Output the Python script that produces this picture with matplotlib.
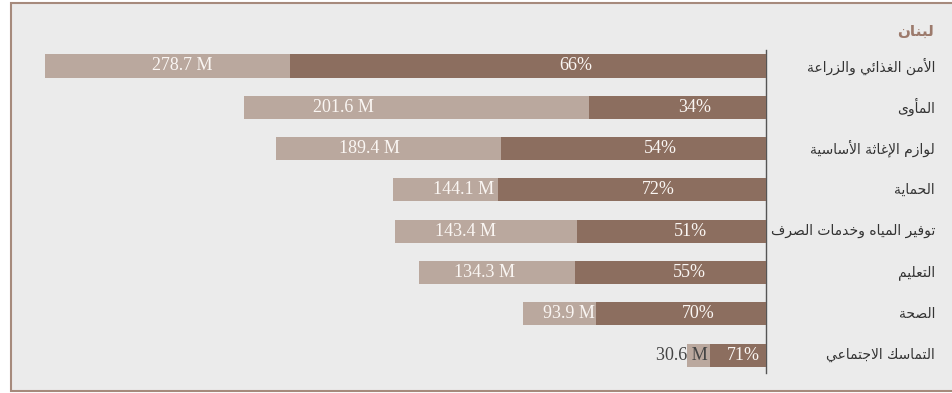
import matplotlib
matplotlib.use("Agg")
import matplotlib.pyplot as plt
from matplotlib.patches import Rectangle
from matplotlib.transforms import blended_transform_factory

# Data
country = "لبنان"
categories = ["الأمن الغذائي والزراعة", "المأوى", "لوازم الإغاثة الأساسية", "الحماية",
              "توفير المياه وخدمات الصرف", "التعليم", "الصحة", "التماسك الاجتماعي"]
required = [278.7, 201.6, 189.4, 144.1, 143.4, 134.3, 93.9, 30.6]   # million USD
funded_pct = [66, 34, 54, 72, 51, 55, 70, 71]

# Colours
bg_color = '#EBEBEB'
border_color = '#A68A7C'
light_bar = '#BAA89E'
dark_bar = '#8C6E5F'
title_color = '#9C7A6C'
text_color = '#333333'
num_color = '#FAF6F3'

# Minimal Arabic shaping (matplotlib has no RTL / joining support)
DUAL = {0x0626: 0xFE89, 0x0628: 0xFE8F, 0x062A: 0xFE95, 0x062B: 0xFE99, 0x062C: 0xFE9D,
        0x062D: 0xFEA1, 0x062E: 0xFEA5, 0x0633: 0xFEB1, 0x0634: 0xFEB5, 0x0635: 0xFEB9,
        0x0636: 0xFEBD, 0x0637: 0xFEC1, 0x0638: 0xFEC5, 0x0639: 0xFEC9, 0x063A: 0xFECD,
        0x0641: 0xFED1, 0x0642: 0xFED5, 0x0643: 0xFED9, 0x0644: 0xFEDD, 0x0645: 0xFEE1,
        0x0646: 0xFEE5, 0x0647: 0xFEE9, 0x064A: 0xFEF1}
RIGHT = {0x0622: 0xFE81, 0x0623: 0xFE83, 0x0624: 0xFE85, 0x0625: 0xFE87, 0x0627: 0xFE8D,
         0x0629: 0xFE93, 0x062F: 0xFEA9, 0x0630: 0xFEAB, 0x0631: 0xFEAD, 0x0632: 0xFEAF,
         0x0648: 0xFEED, 0x0649: 0xFEEF}
LAM_ALEF = {0x0622: 0xFEF5, 0x0623: 0xFEF7, 0x0625: 0xFEF9, 0x0627: 0xFEFB}


def shape(text):
    cps = [ord(c) for c in text]
    units = []
    i = 0
    while i < len(cps):
        if cps[i] == 0x0644 and i + 1 < len(cps) and cps[i + 1] in LAM_ALEF:
            units.append(('la', LAM_ALEF[cps[i + 1]]))
            i += 2
        else:
            units.append(('c', cps[i]))
            i += 1

    def joins_next(u):
        return u[0] == 'c' and u[1] in DUAL

    def joins_prev(u):
        return u[0] == 'la' or u[1] in DUAL or u[1] in RIGHT

    out = []
    for k, u in enumerate(units):
        prev = units[k - 1] if k > 0 else None
        nxt = units[k + 1] if k + 1 < len(units) else None
        p = prev is not None and joins_next(prev) and joins_prev(u)
        n = nxt is not None and joins_next(u) and joins_prev(nxt)
        if u[0] == 'la':
            out.append(chr(u[1] + (1 if p else 0)))
        elif u[1] in DUAL:
            out.append(chr(DUAL[u[1]] + (3 if p and n else 2 if n else 1 if p else 0)))
        elif u[1] in RIGHT:
            out.append(chr(RIGHT[u[1]] + (1 if p else 0)))
        else:
            out.append(chr(u[1]))
    return ''.join(reversed(out))


W, H = 952, 393
fig = plt.figure(figsize=(W / 100, H / 100), dpi=100, facecolor='white')

# Panel background with border (right edge runs off the image)
fig.patches.append(Rectangle((10.5 / W, 2 / H), 1.0, (H - 5) / H, transform=fig.transFigure,
                             facecolor=bg_color, edgecolor=border_color, linewidth=1.5, zorder=-10))

zero_px, left_px = 766, 20
row_px, top_px = 41.3, 45.35
scale = 2.587   # px per million
ax = fig.add_axes([left_px / W, (H - top_px - 8 * row_px) / H, (zero_px - left_px) / W, 8 * row_px / H])
ax.set_facecolor('none')
ax.set_zorder(1)

y = list(range(len(categories)))
funded = [r * p / 100 for r, p in zip(required, funded_pct)]

ax.barh(y, required, height=0.56, color=light_bar, zorder=2)
ax.barh(y, funded, height=0.56, color=dark_bar, zorder=3)

ax.set_xlim((zero_px - left_px) / scale, 0)
ax.set_ylim(7.5, -0.5)
ax.set_xticks([])
ax.set_yticks([])
for s in ['top', 'left', 'bottom']:
    ax.spines[s].set_visible(False)
ax.spines['right'].set_color('#555555')
ax.spines['right'].set_linewidth(1)
ax.spines['right'].set_bounds(-0.39, 7.43)

num_font = dict(family='Liberation Serif', fontsize=13)
for yi, r, f, p in zip(y, required, funded, funded_pct):
    ax.text(0.4 * f, yi, f"{p}%", ha='center', va='center', color=num_color, zorder=4, **num_font)
    if r - f > 20:
        ax.text(0.81 * r, yi, f"{r} M", ha='center', va='center', color=num_color, zorder=4, **num_font)
    else:
        ax.text(f + 0.8, yi, f"{r} M", ha='right', va='center', color='#444444', zorder=4, **num_font)

# Category labels on the right (RTL)
trans = blended_transform_factory(fig.transFigure, ax.transData)
for yi, cat in zip(y, categories):
    ax.text(935 / W, yi, shape(cat), transform=trans, ha='right', va='center',
            fontsize=10, color=text_color, family='DejaVu Sans', clip_on=False)

fig.text(934 / W, 1 - 31 / H, shape(country), ha='right', va='center', fontsize=11,
         fontweight='bold', color=title_color, family='DejaVu Sans')

fig.savefig('out.png', dpi=100, facecolor='white')
